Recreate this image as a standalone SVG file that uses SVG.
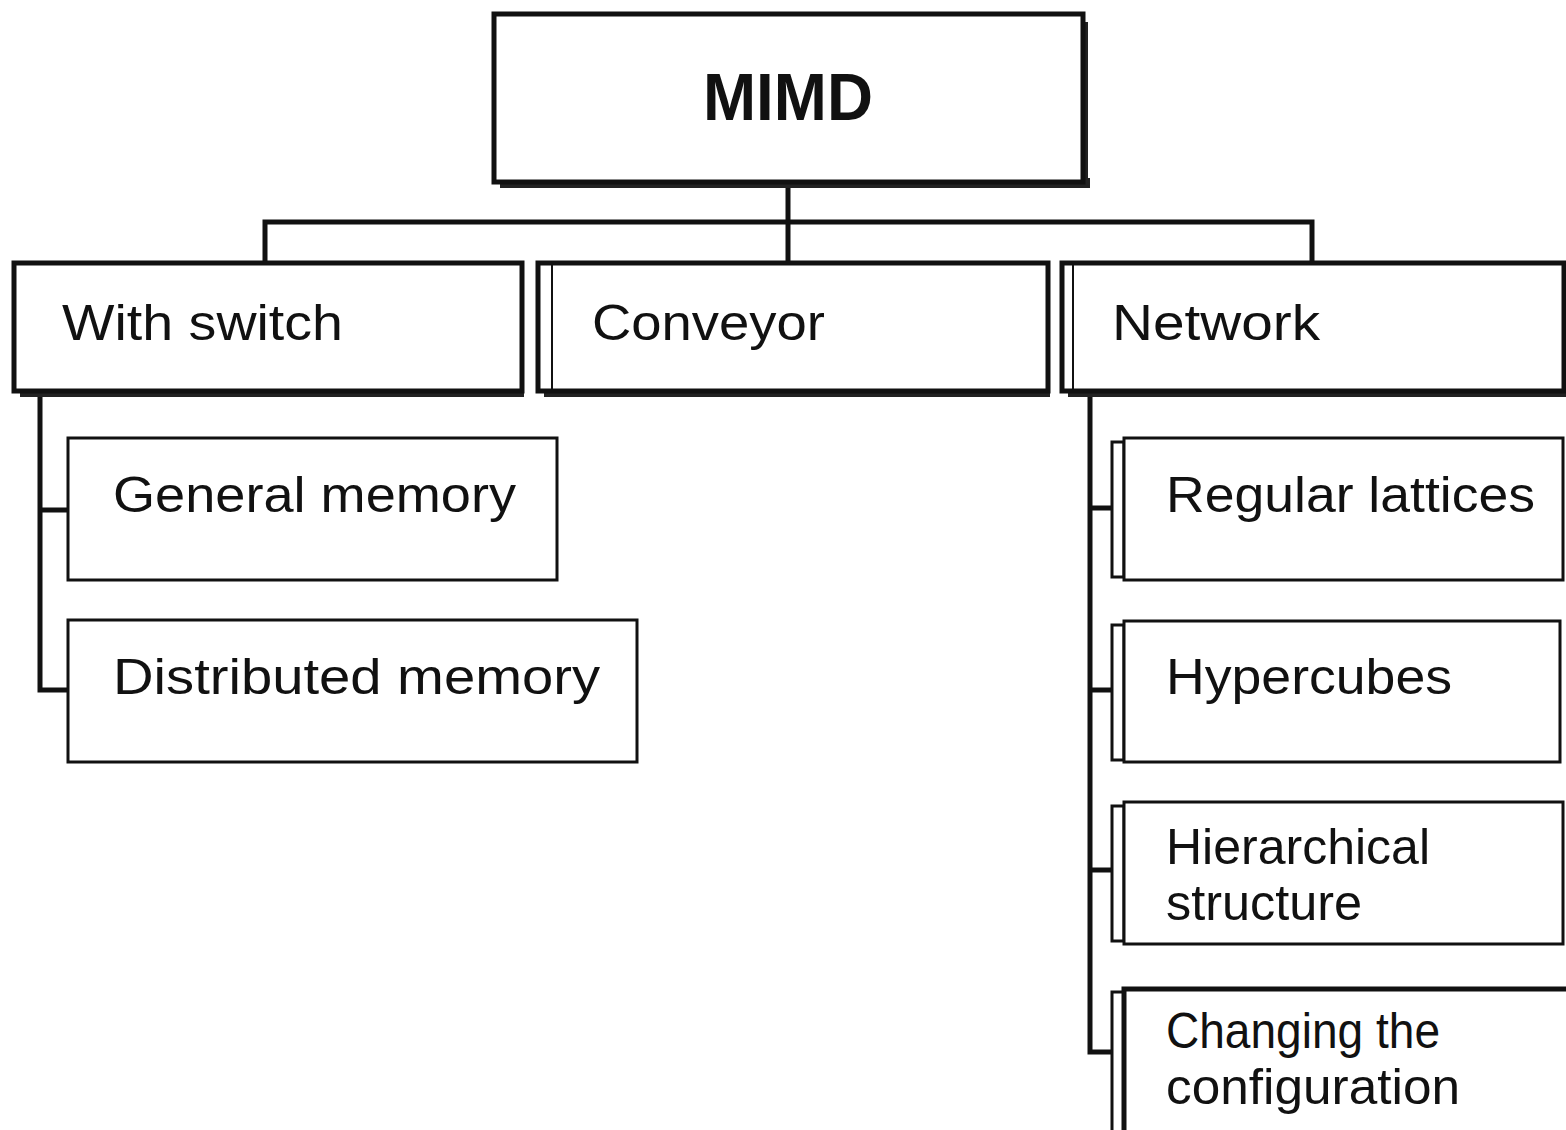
<svg xmlns="http://www.w3.org/2000/svg" width="1566" height="1130" viewBox="0 0 1566 1130">
<style>
.box{fill:#fff;stroke:#111;stroke-width:3}
.thick{fill:#fff;stroke:#111;stroke-width:5}
.inner{fill:none;stroke:#111;stroke-width:2}
.shadow{fill:#222}
.t{font-family:"Liberation Sans",Arial,sans-serif;font-size:50px;fill:#111}
.title{font-family:"Liberation Sans",Arial,sans-serif;font-size:66px;font-weight:bold;fill:#111}
.line{fill:none;stroke:#111;stroke-width:5}
</style>
<g id="connectors">
<path class="line" d="M788 183 V262"/>
<path class="line" d="M265 262 V222 H1312 V262"/>
<path class="line" d="M40 392 V690 H68 M40 510 H68"/>
<path class="line" d="M1090 392 V1052 H1112 M1090 508 H1112 M1090 690 H1112 M1090 870 H1112"/>
</g>
<g id="mimd">
<rect class="shadow" x="500" y="178" width="590" height="10"/>
<rect class="shadow" x="1080" y="22" width="8" height="164"/>
<rect class="thick" x="494" y="14" width="589" height="168"/>
<text class="title" x="788" y="120" text-anchor="middle" textLength="170" lengthAdjust="spacingAndGlyphs">MIMD</text>
</g>
<g id="with-switch">
<rect class="shadow" x="20" y="388" width="504" height="9"/>
<rect class="thick" x="14" y="263" width="508" height="128"/>
<text class="t" x="62" y="340" textLength="281" lengthAdjust="spacingAndGlyphs">With switch</text>
</g>
<g id="conveyor">
<rect class="shadow" x="544" y="388" width="506" height="9"/>
<rect class="thick" x="538" y="263" width="510" height="128"/>
<line class="inner" x1="552" y1="265" x2="552" y2="389"/>
<text class="t" x="592" y="340" textLength="233" lengthAdjust="spacingAndGlyphs">Conveyor</text>
</g>
<g id="network">
<rect class="shadow" x="1068" y="388" width="498" height="9"/>
<rect class="thick" x="1062" y="263" width="502" height="128"/>
<line class="inner" x1="1073" y1="265" x2="1073" y2="389"/>
<text class="t" x="1112" y="340" textLength="208" lengthAdjust="spacingAndGlyphs">Network</text>
</g>
<g id="general-memory">
<rect class="box" x="68" y="438" width="489" height="142"/>
<text class="t" x="113" y="512" textLength="403" lengthAdjust="spacingAndGlyphs">General memory</text>
</g>
<g id="distributed-memory">
<rect class="box" x="68" y="620" width="569" height="142"/>
<text class="t" x="113" y="694" textLength="487" lengthAdjust="spacingAndGlyphs">Distributed memory</text>
</g>
<g id="regular-lattices">
<rect class="box" x="1112" y="442" width="12" height="135"/>
<rect class="box" x="1124" y="438" width="439" height="142"/>
<text class="t" x="1166" y="512" textLength="369" lengthAdjust="spacingAndGlyphs">Regular lattices</text>
</g>
<g id="hypercubes">
<rect class="box" x="1112" y="625" width="12" height="135"/>
<rect class="box" x="1124" y="621" width="436" height="141"/>
<text class="t" x="1166" y="694" textLength="286" lengthAdjust="spacingAndGlyphs">Hypercubes</text>
</g>
<g id="hierarchical-structure">
<rect class="box" x="1112" y="806" width="12" height="135"/>
<rect class="box" x="1124" y="802" width="439" height="142"/>
<text class="t" x="1166" y="864" textLength="264" lengthAdjust="spacingAndGlyphs">Hierarchical</text>
<text class="t" x="1166" y="920" textLength="196" lengthAdjust="spacingAndGlyphs">structure</text>
</g>
<g id="changing-configuration">
<rect class="box" x="1112" y="992" width="12" height="150"/>
<rect class="thick" x="1124" y="989" width="445" height="150"/>
<text class="t" x="1166" y="1048" textLength="274" lengthAdjust="spacingAndGlyphs">Changing the</text>
<text class="t" x="1166" y="1104" textLength="294" lengthAdjust="spacingAndGlyphs">configuration</text>
</g>
</svg>
